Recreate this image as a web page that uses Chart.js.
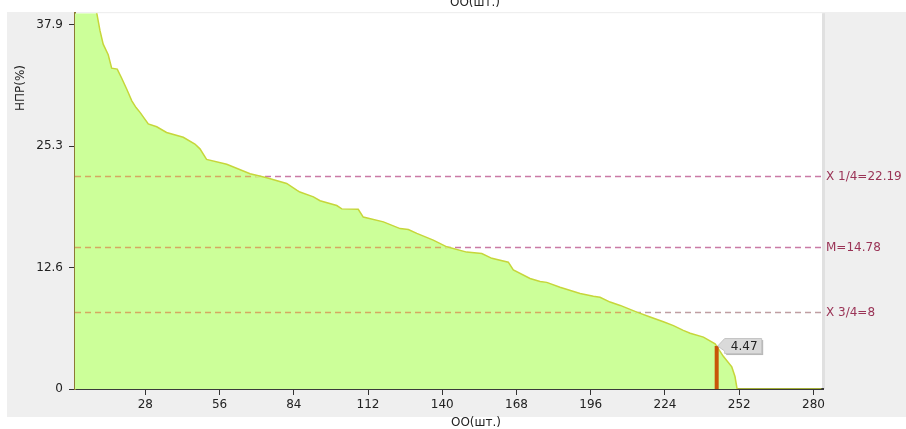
<!DOCTYPE html>
<html><head><meta charset="utf-8">
<script src="https://cdn.jsdelivr.net/npm/chart.js@4/dist/chart.umd.min.js"></script>
<style>html,body{margin:0;padding:0;background:#fff;overflow:hidden}canvas{display:block}</style>
</head><body>
<canvas id="c" width="906" height="429"></canvas>
<script>
const xTitle = 'ОО(шт.)';
const yTitle = 'НПР(%)';
const curveX = [1,3,5,7,9.7,10.9,12.1,14,15.3,17.4,19,21,22.9,24.5,26,29.1,32.3,36,42.3,46.7,48.6,51.1,58.7,67.5,73.8,81.3,85.1,86.3,91.4,93.9,100.2,102.1,108.3,110.2,117.8,124.1,127.2,130.4,136.6,141.7,149.2,154.9,158.7,164.9,166.8,173.1,176.9,179.4,184.4,192,197,199.5,203.3,207.1,213.4,218.4,223.4,227.2,230.9,233.5,238.5,242.9,243.5,246,249.2,250.4,251.2,283];
const curveY = [47,44,42,40.6,39.1,37.3,35.9,34.8,33.4,33.3,32.4,31.2,30.0,29.3,28.8,27.6,27.3,26.7,26.2,25.5,25.0,23.9,23.4,22.4,22.0,21.4,20.7,20.5,20.0,19.6,19.1,18.75,18.7,17.9,17.4,16.7,16.6,16.2,15.5,14.8,14.25,14.1,13.6,13.2,12.4,11.5,11.2,11.1,10.6,9.95,9.65,9.55,9.05,8.7,8.0,7.5,7.0,6.6,6.1,5.8,5.4,4.7,4.47,3.4,2.3,1.3,0,0];
const xTicks = [28,56,84,112,140,168,196,224,252,280];
const yTicks = [0,12.63,25.27,37.9];
const yTickLabels = ['0','12.6','25.3','37.9'];
const refNames = ['X 1/4','M','X 3/4'];
const refValues = [22.19,14.78,8];
const markerX = [243.5];
const markerValue = [4.47];

const FONT = '12px "DejaVu Sans", sans-serif';
const refColorsOut = ['#c97aa6','#c97aa6','#bf9ea2'];
const refColorIn = '#d4a862';

function dashLine(ctx, a, y, color){
  ctx.save();
  ctx.strokeStyle = color; ctx.lineWidth = 1.6; ctx.setLineDash([6,4]);
  ctx.beginPath(); ctx.moveTo(a.left, y); ctx.lineTo(a.right, y); ctx.stroke();
  ctx.restore();
}

const deco = {
  id:'deco',
  beforeDraw(chart){
    const {ctx, chartArea:a, width, height} = chart;
    ctx.save();
    ctx.fillStyle='#fff'; ctx.fillRect(0,0,width,height);
    ctx.fillStyle='#efefef'; ctx.fillRect(7,12,width-7,405);
    ctx.fillStyle='#fff'; ctx.fillRect(a.left,a.top,a.right-a.left,a.bottom-a.top);
    ctx.fillStyle='#e0e0e0'; ctx.fillRect(a.right-1,a.top,3,a.bottom-a.top);
    ctx.restore();
  },
  beforeDatasetsDraw(chart){
    const {ctx, chartArea:a} = chart;
    const ys = chart.scales.y;
    refValues.forEach((v,i)=> dashLine(ctx, a, Math.round(ys.getPixelForValue(v))+0.5, refColorsOut[i]));
  },
  afterDatasetsDraw(chart){
    const {ctx, chartArea:a} = chart;
    const ys = chart.scales.y;
    const meta = chart.getDatasetMeta(1);
    const pts = meta.data;
    ctx.save();
    ctx.beginPath(); ctx.rect(a.left,a.top,a.right-a.left,a.bottom-a.top); ctx.clip();
    ctx.beginPath();
    ctx.moveTo(pts[0].x, a.bottom);
    pts.forEach(p=>ctx.lineTo(p.x, p.y+1.5));
    ctx.lineTo(pts[pts.length-1].x, a.bottom);
    ctx.closePath(); ctx.clip();
    refValues.forEach(v=> dashLine(ctx, a, Math.round(ys.getPixelForValue(v))+0.5, refColorIn));
    ctx.restore();
  },
  afterDraw(chart){
    const {ctx, chartArea:a} = chart;
    const xs = chart.scales.x, ys = chart.scales.y;
    ctx.save();
    ctx.font = FONT;
    // reference labels
    ctx.fillStyle = '#9a3356'; ctx.textAlign='left'; ctx.textBaseline='middle';
    refValues.forEach((v,i)=> ctx.fillText(refNames[i]+'='+v, a.right+3, ys.getPixelForValue(v)+1));
    // titles
    ctx.fillStyle = '#222'; ctx.textAlign='center';
    ctx.fillText(xTitle, 475, 3);
    ctx.fillText(xTitle, 476, 423);
    ctx.save(); ctx.translate(21, 88); ctx.rotate(-Math.PI/2); ctx.fillText(yTitle, 0, 0); ctx.restore();
    // marker label
    markerX.forEach((mx,i)=>{
      const px = xs.getPixelForValue(mx), py = ys.getPixelForValue(markerValue[i]);
      const bl = px+8, bt = py-7.5, bw = 37, bh = 15;
      ctx.fillStyle = '#b8b8b8';
      ctx.fillRect(bl+1.5, bt+1.5, bw, bh);
      ctx.beginPath();
      ctx.moveTo(px+1, py);
      ctx.lineTo(bl, bt); ctx.lineTo(bl+bw, bt); ctx.lineTo(bl+bw, bt+bh); ctx.lineTo(bl, bt+bh); ctx.lineTo(bl, py+5);
      ctx.closePath();
      ctx.fillStyle = '#dadada'; ctx.fill();
      ctx.strokeStyle = '#c4c4c4'; ctx.lineWidth = 1; ctx.stroke();
      ctx.fillStyle = '#222'; ctx.textAlign='center'; ctx.textBaseline='middle';
      ctx.fillText(String(markerValue[i]), bl+bw/2+1, py+0.5);
    });
    ctx.restore();
  }
};

new Chart(document.getElementById('c'), {
  type:'line',
  data:{
    datasets:[
      {
        data: markerX.flatMap((x,i)=>[{x:x,y:0},{x:x,y:markerValue[i]}]),
        borderColor:'#c85508', borderWidth:4, pointRadius:0, fill:false, order:0, clip:0
      },
      {
        data: curveX.map((x,i)=>({x:x,y:curveY[i]})),
        borderColor:'#c6d63a', borderWidth:1.5, backgroundColor:'#ccff99',
        fill:'origin', pointRadius:0, tension:0, order:1, clip:0
      }
    ]
  },
  options:{
    responsive:false, animation:false, devicePixelRatio:1,
    layout:{padding:{left:0, top:12, right:83, bottom:0}},
    plugins:{legend:{display:false}, tooltip:{enabled:false}, title:{display:false}},
    scales:{
      x:{
        type:'linear', min:1.47, max:283.6,
        afterBuildTicks(s){ s.ticks = xTicks.map(v=>({value:v})); },
        afterFit(s){ s.height = 40; },
        ticks:{font:{family:'"DejaVu Sans", sans-serif', size:12}, color:'#222', padding:3, maxRotation:0, autoSkip:false},
        grid:{drawOnChartArea:false, drawTicks:true, tickLength:6, color:'#333', lineWidth:1},
        border:{display:true, color:'#3a3a3a', width:2}
      },
      y:{
        min:0, max:39.12,
        afterBuildTicks(s){ s.ticks = yTicks.map(v=>({value:v})); },
        afterFit(s){ s.width = 75; },
        ticks:{font:{family:'"DejaVu Sans", sans-serif', size:12}, color:'#222', padding:6, autoSkip:false,
          callback:(v,i)=>yTickLabels[i]},
        grid:{drawOnChartArea:false, drawTicks:true, tickLength:6, color:'#333', lineWidth:1},
        border:{display:true, color:'#8c7a35', width:2}
      }
    }
  },
  plugins:[deco]
});
</script>
</body></html>
